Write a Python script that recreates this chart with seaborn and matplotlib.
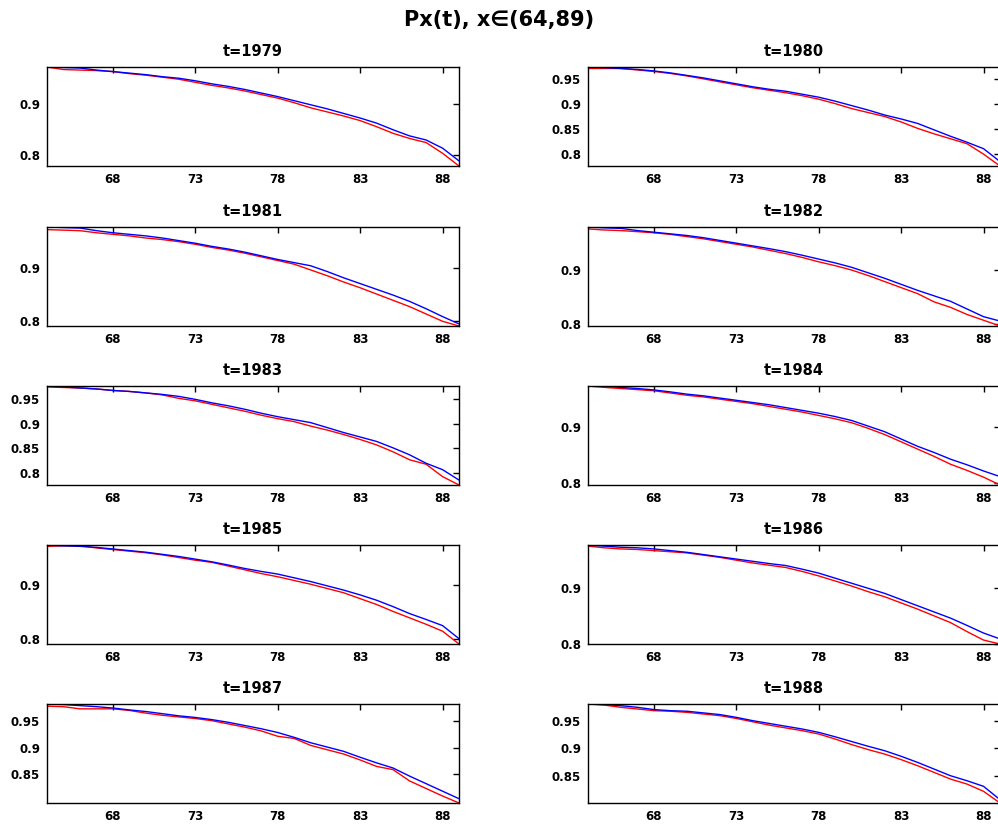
"""Px(t) survival probability panels, observed vs fitted, ages 64-89."""

import matplotlib

matplotlib.use("Agg")
import matplotlib.pyplot as plt
import pandas as pd
import seaborn as sns

# $ Data
ages = list(range(64, 90))
years = [1979, 1980, 1981, 1982, 1983, 1984, 1985, 1986, 1987, 1988]

# fitted (blue) and observed (red), one list per year, ages 64..89
px_blue = {
    1979: [0.973, 0.972, 0.971, 0.967, 0.964, 0.961, 0.958, 0.954, 0.951, 0.946,
           0.940, 0.935, 0.929, 0.922, 0.915, 0.907, 0.899, 0.891, 0.882, 0.873,
           0.863, 0.850, 0.838, 0.830, 0.814, 0.789],
    1980: [0.975, 0.974, 0.972, 0.970, 0.967, 0.963, 0.958, 0.953, 0.947, 0.941,
           0.935, 0.930, 0.926, 0.920, 0.914, 0.906, 0.897, 0.888, 0.878, 0.870,
           0.861, 0.848, 0.835, 0.823, 0.810, 0.784],
    1981: [0.979, 0.978, 0.977, 0.972, 0.968, 0.965, 0.962, 0.958, 0.953, 0.948,
           0.942, 0.937, 0.931, 0.924, 0.917, 0.911, 0.905, 0.894, 0.882, 0.871,
           0.860, 0.849, 0.837, 0.823, 0.808, 0.794],
    1982: [0.9775, 0.976, 0.975, 0.971, 0.968, 0.965, 0.962, 0.958, 0.953, 0.948,
           0.943, 0.938, 0.9325, 0.926, 0.919, 0.912, 0.904, 0.894, 0.884, 0.873,
           0.862, 0.852, 0.842, 0.828, 0.814, 0.806],
    1983: [0.976, 0.974, 0.972, 0.970, 0.967, 0.965, 0.962, 0.959, 0.955, 0.949,
           0.942, 0.936, 0.929, 0.921, 0.914, 0.908, 0.902, 0.892, 0.882, 0.873,
           0.864, 0.851, 0.837, 0.820, 0.807, 0.786],
    1984: [0.9735, 0.973, 0.971, 0.969, 0.9665, 0.963, 0.959, 0.956, 0.952, 0.948,
           0.944, 0.940, 0.935, 0.930, 0.925, 0.919, 0.912, 0.902, 0.892, 0.879,
           0.866, 0.855, 0.843, 0.833, 0.822, 0.812],
    1985: [0.9755, 0.974, 0.973, 0.971, 0.968, 0.965, 0.962, 0.958, 0.954, 0.949,
           0.944, 0.938, 0.9315, 0.926, 0.921, 0.914, 0.907, 0.899, 0.891, 0.882,
           0.872, 0.860, 0.847, 0.836, 0.8245, 0.800],
    1986: [0.976, 0.974, 0.972, 0.971, 0.969, 0.966, 0.963, 0.959, 0.955, 0.951,
           0.947, 0.943, 0.9395, 0.933, 0.926, 0.917, 0.908, 0.899, 0.890, 0.879,
           0.868, 0.857, 0.846, 0.833, 0.8195, 0.809],
    1987: [0.981, 0.980, 0.978, 0.976, 0.9735, 0.970, 0.967, 0.963, 0.959, 0.956,
           0.952, 0.947, 0.941, 0.935, 0.928, 0.919, 0.909, 0.901, 0.893, 0.882,
           0.8716, 0.862, 0.847, 0.833, 0.819, 0.805],
    1988: [0.980, 0.979, 0.977, 0.974, 0.970, 0.968, 0.967, 0.964, 0.961, 0.956,
           0.950, 0.945, 0.940, 0.935, 0.929, 0.921, 0.9125, 0.904, 0.896, 0.886,
           0.875, 0.863, 0.851, 0.842, 0.832, 0.808],
}
px_red = {
    1979: [0.973, 0.968, 0.967, 0.966, 0.964, 0.960, 0.957, 0.953, 0.949, 0.943,
           0.937, 0.932, 0.926, 0.919, 0.912, 0.903, 0.893, 0.885, 0.877, 0.868,
           0.856, 0.843, 0.833, 0.825, 0.804, 0.779],
    1980: [0.972, 0.972, 0.972, 0.969, 0.966, 0.962, 0.957, 0.951, 0.945, 0.939,
           0.933, 0.928, 0.923, 0.917, 0.910, 0.901, 0.891, 0.883, 0.875, 0.864,
           0.851, 0.840, 0.830, 0.820, 0.799, 0.775],
    1981: [0.974, 0.973, 0.972, 0.968, 0.965, 0.962, 0.958, 0.955, 0.951, 0.946,
           0.940, 0.935, 0.929, 0.922, 0.915, 0.908, 0.897, 0.886, 0.874, 0.863,
           0.851, 0.839, 0.827, 0.813, 0.799, 0.790],
    1982: [0.974, 0.972, 0.971, 0.969, 0.967, 0.964, 0.960, 0.956, 0.951, 0.946,
           0.941, 0.935, 0.929, 0.922, 0.914, 0.907, 0.899, 0.889, 0.878, 0.867,
           0.856, 0.841, 0.831, 0.818, 0.8075, 0.797],
    1983: [0.974, 0.973, 0.972, 0.970, 0.967, 0.965, 0.962, 0.958, 0.951, 0.946,
           0.939, 0.932, 0.925, 0.917, 0.910, 0.904, 0.895, 0.887, 0.878, 0.868,
           0.857, 0.843, 0.827, 0.818, 0.793, 0.776],
    1984: [0.9735, 0.971, 0.969, 0.967, 0.965, 0.961, 0.957, 0.954, 0.950, 0.946,
           0.942, 0.937, 0.932, 0.927, 0.921, 0.915, 0.908, 0.898, 0.887, 0.874,
           0.861, 0.848, 0.834, 0.823, 0.811, 0.797],
    1985: [0.973, 0.974, 0.974, 0.970, 0.967, 0.964, 0.961, 0.957, 0.952, 0.947,
           0.943, 0.936, 0.929, 0.922, 0.916, 0.909, 0.902, 0.894, 0.886, 0.875,
           0.864, 0.851, 0.839, 0.827, 0.814, 0.790],
    1986: [0.974, 0.971, 0.969, 0.968, 0.966, 0.964, 0.962, 0.958, 0.954, 0.949,
           0.944, 0.940, 0.936, 0.929, 0.921, 0.912, 0.903, 0.893, 0.884, 0.873,
           0.862, 0.850, 0.838, 0.822, 0.807, 0.800],
    1987: [0.977, 0.976, 0.972, 0.972, 0.972, 0.969, 0.964, 0.960, 0.957, 0.954,
           0.950, 0.944, 0.938, 0.931, 0.921, 0.917, 0.904, 0.896, 0.888, 0.877,
           0.865, 0.859, 0.838, 0.824, 0.810, 0.797],
    1988: [0.980, 0.978, 0.974, 0.971, 0.968, 0.967, 0.965, 0.962, 0.959, 0.954,
           0.948, 0.942, 0.937, 0.932, 0.926, 0.917, 0.907, 0.898, 0.890, 0.880,
           0.869, 0.857, 0.845, 0.836, 0.823, 0.802],
}

x_ticks = [68, 73, 78, 83, 88]
y_ticks = {
    1979: [0.8, 0.9],
    1980: [0.8, 0.85, 0.9, 0.95],
    1981: [0.8, 0.9],
    1982: [0.8, 0.9],
    1983: [0.8, 0.85, 0.9, 0.95],
    1984: [0.8, 0.9],
    1985: [0.8, 0.9],
    1986: [0.8, 0.9],
    1987: [0.85, 0.9, 0.95],
    1988: [0.85, 0.9, 0.95],
}
y_tick_labels = {0.8: "0.8", 0.85: "0.85", 0.9: "0.9", 0.95: "0.95"}

suptitle = "Px(t), x\u2208(64,89)"

# $ Plot
sns.set_style("white")
plt.rcParams["font.family"] = ["DejaVu Sans"]
plt.rcParams["font.weight"] = "bold"
plt.rcParams["text.color"] = "black"
plt.rcParams["axes.titlecolor"] = "black"

W, H = 998, 825
fig = plt.figure(figsize=(W / 100, H / 100), dpi=100)

col_left = [47, 588]  # px
ax_w = 412
row_top = [67, 227, 386, 545, 704]
ax_h = 99

fig.text(0.5, 1 - 20 / H, suptitle, ha="center", va="center",
         fontsize=15, fontweight="bold", color="black")

for i, year in enumerate(years):
    r, c = divmod(i, 2)
    ax = fig.add_axes([col_left[c] / W, 1 - (row_top[r] + ax_h) / H,
                       ax_w / W, ax_h / H])

    df = pd.DataFrame({"age": ages, "red": px_red[year], "blue": px_blue[year]})
    sns.lineplot(data=df, x="age", y="red", color="red", linewidth=1, ax=ax)
    sns.lineplot(data=df, x="age", y="blue", color="blue", linewidth=1, ax=ax)

    lo = min(df["red"].min(), df["blue"].min())
    hi = max(df["red"].max(), df["blue"].max())
    ax.set_xlim(ages[0], ages[-1])
    ax.set_ylim(lo, hi)

    ax.set_xticks(x_ticks)
    ax.set_xticklabels([str(t) for t in x_ticks])
    ax.set_yticks(y_ticks[year])
    ax.set_yticklabels([y_tick_labels[t] for t in y_ticks[year]])
    ax.tick_params(direction="in", length=4, width=1, top=True, right=True,
                   labelsize=8.5, pad=5, colors="black")
    for lab in ax.get_xticklabels() + ax.get_yticklabels():
        lab.set_fontweight("bold")
    for sp in ax.spines.values():
        sp.set_visible(True)
        sp.set_color("black")
        sp.set_linewidth(1)

    ax.set_xlabel("")
    ax.set_ylabel("")
    ax.set_title(f"t={year}", fontsize=10.5, fontweight="bold", pad=8,
                 color="black")

fig.savefig("out.png", dpi=100)
plt.close(fig)
